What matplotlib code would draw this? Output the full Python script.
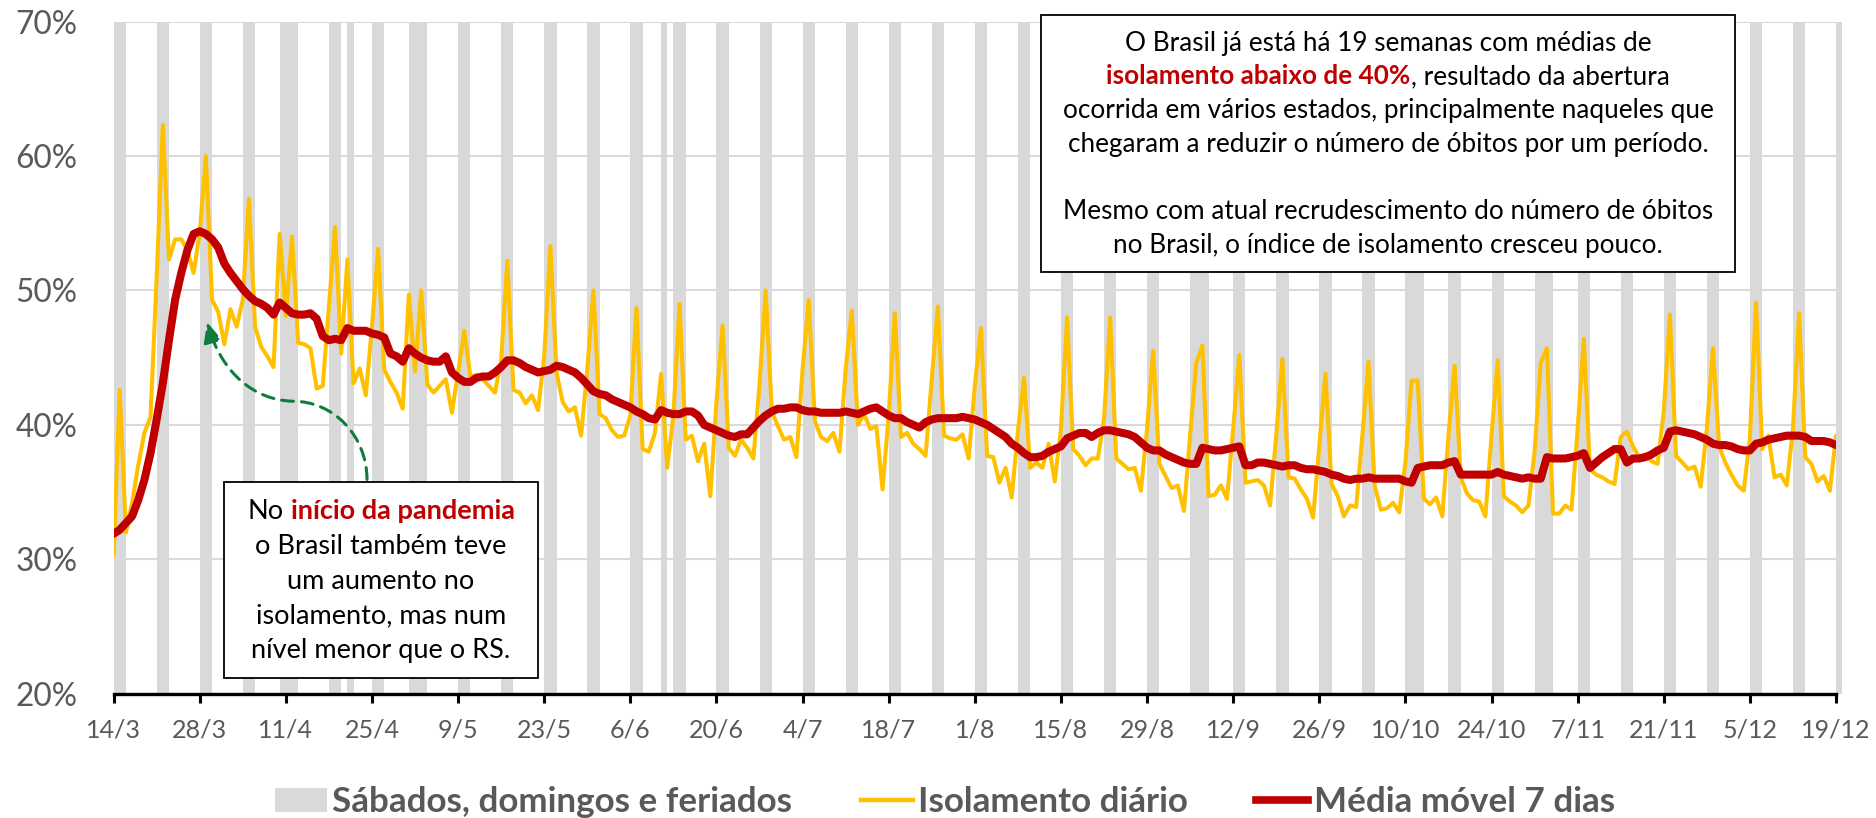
import matplotlib
matplotlib.use('Agg')
import matplotlib.pyplot as plt
import numpy as np
from matplotlib.patches import Rectangle, Patch, FancyArrowPatch
from matplotlib.lines import Line2D
from matplotlib.path import Path

W, H, DPI = 1876, 818, 100
FONT = 'Lato'
plt.rcParams['font.family'] = [FONT, 'DejaVu Sans']

# ---------------- data ----------------
tick_labels = ['14/3', '28/3', '11/4', '25/4', '9/5', '23/5', '6/6', '20/6', '4/7',
               '18/7', '1/8', '15/8', '29/8', '12/9', '26/9', '10/10', '24/10',
               '7/11', '21/11', '5/12', '19/12']

# daily isolation index (%), one value per day starting 14/3 (Saturday)
daily = [
    30.3, 42.6, 32.0, 34.2, 37.0, 39.4, 40.6,
    51.0, 62.3, 52.3, 53.8, 53.8, 53.0, 51.3,
    54.3, 60.0, 49.3, 48.4, 46.0, 48.6, 47.3,
    49.3, 56.8, 47.3, 45.8, 45.1, 44.3, 54.2,
    48.1, 54.0, 46.1, 46.0, 45.7, 42.7, 42.9,
    48.8, 54.7, 45.3, 52.3, 43.1, 44.2, 42.2,
    47.3, 53.1, 44.1, 43.2, 42.4, 41.2, 49.7,
    44.0, 50.0, 43.0, 42.4, 42.9, 43.4, 40.9,
    43.9, 47.0, 43.6, 43.7, 43.4, 42.9, 42.4,
    44.8, 52.2, 42.6, 42.4, 41.6, 42.2, 41.1,
    45.1, 53.3, 43.9, 41.7, 41.0, 41.3, 39.2,
    44.1, 50.0, 40.8, 40.5, 39.6, 39.1, 39.2,
    40.7, 48.7, 38.2, 38.0, 39.4, 43.8, 36.8,
    40.7, 49.0, 38.9, 39.2, 37.3, 38.6, 34.7,
    41.7, 47.4, 38.3, 37.7, 38.9, 38.3, 37.5,
    43.0, 50.0, 41.0, 39.9, 38.9, 39.1, 37.6,
    44.1, 49.3, 40.3, 39.1, 38.8, 39.4, 38.0,
    44.1, 48.5, 40.0, 40.8, 39.7, 39.9, 35.2,
    40.7, 48.3, 39.1, 39.4, 38.6, 38.2, 37.7,
    43.4, 48.8, 39.2, 39.0, 38.9, 39.3, 37.5,
    42.9, 47.2, 37.7, 37.6, 35.7, 36.8, 34.6,
    39.5, 43.5, 36.8, 37.2, 36.8, 38.6, 35.8,
    39.7, 48.0, 38.2, 37.7, 37.0, 37.5, 37.5,
    40.4, 48.0, 37.5, 37.1, 36.7, 36.8, 35.1,
    39.7, 45.5, 37.1, 36.2, 35.3, 35.5, 33.6,
    39.2, 44.6, 45.9, 34.7, 34.8, 35.5, 34.5,
    39.7, 45.2, 35.7, 35.8, 35.9, 35.5, 34.0,
    39.2, 44.9, 36.1, 36.0, 35.2, 34.5, 33.1,
    38.4, 43.8, 35.6, 34.7, 33.2, 34.0, 33.9,
    39.2, 44.7, 35.5, 33.7, 33.8, 34.2, 33.5,
    37.2, 43.3, 43.3, 34.5, 34.1, 34.6, 33.2,
    39.2, 44.4, 36.1, 34.9, 34.4, 34.3, 33.2,
    39.2, 44.8, 34.7, 34.3, 34.0, 33.5, 34.0,
    38.0, 44.6, 45.7, 33.4, 33.4, 34.0, 33.7,
    39.7, 46.4, 36.7, 36.3, 36.1, 35.8, 35.6,
    39.1, 39.5, 38.4, 37.6, 37.8, 37.3, 37.1,
    41.0, 48.2, 37.7, 37.2, 36.7, 36.9, 35.4,
    39.7, 45.7, 38.4, 37.2, 36.3, 35.5, 35.1,
    39.0, 49.1, 38.2, 39.2, 36.1, 36.3, 35.5,
    39.7, 48.3, 37.6, 37.1, 35.8, 36.2, 35.1,
    39.2,
]

# 7-day moving average (%)
avg7 = [
    31.9, 32.2, 32.7, 33.2, 34.4, 35.9, 37.9,
    40.4, 43.1, 46.3, 49.3, 51.3, 53.0, 54.2,
    54.4, 54.2, 53.8, 53.2, 52.0, 51.3, 50.7,
    50.1, 49.6, 49.2, 49.0, 48.7, 48.2, 49.1,
    48.7, 48.3, 48.2, 48.2, 48.3, 47.9, 46.6,
    46.3, 46.4, 46.3, 47.2, 47.0, 47.0, 47.0,
    46.8, 46.7, 46.5, 45.3, 45.1, 44.7, 45.7,
    45.3, 45.0, 44.8, 44.7, 44.7, 45.1, 43.9,
    43.5, 43.2, 43.2, 43.5, 43.6, 43.6, 43.9,
    44.3, 44.8, 44.8, 44.6, 44.3, 44.1, 43.9,
    44.0, 44.1, 44.4, 44.3, 44.1, 43.9, 43.5,
    43.0, 42.5, 42.3, 42.2, 41.9, 41.7, 41.5,
    41.3, 41.0, 40.8, 40.5, 40.4, 41.1, 40.9,
    40.8, 40.8, 41.0, 41.0, 40.7, 40.0, 39.8,
    39.6, 39.4, 39.2, 39.1, 39.3, 39.3, 39.8,
    40.3, 40.7, 41.0, 41.2, 41.2, 41.3, 41.3,
    41.1, 41.0, 41.0, 40.9, 40.9, 40.9, 40.9,
    41.0, 40.9, 40.8, 41.0, 41.2, 41.3, 41.0,
    40.7, 40.5, 40.5, 40.2, 40.0, 39.8, 40.2,
    40.4, 40.5, 40.5, 40.5, 40.5, 40.6, 40.5,
    40.4, 40.2, 40.0, 39.7, 39.4, 39.1, 38.6,
    38.3, 37.9, 37.6, 37.6, 37.7, 38.0, 38.2,
    38.4, 39.0, 39.2, 39.4, 39.4, 39.1, 39.4,
    39.6, 39.6, 39.5, 39.4, 39.3, 39.1, 38.7,
    38.3, 38.1, 38.1, 37.8, 37.6, 37.4, 37.2,
    37.1, 37.1, 38.3, 38.2, 38.1, 38.1, 38.2,
    38.3, 38.4, 37.0, 37.0, 37.2, 37.2, 37.1,
    37.0, 36.9, 37.0, 37.0, 36.8, 36.7, 36.7,
    36.6, 36.5, 36.3, 36.2, 36.0, 35.9, 36.0,
    36.0, 36.1, 36.0, 36.0, 36.0, 36.0, 36.0,
    35.8, 35.7, 36.8, 36.9, 37.0, 37.0, 37.0,
    37.2, 37.3, 36.3, 36.3, 36.3, 36.3, 36.3,
    36.3, 36.5, 36.3, 36.2, 36.1, 36.0, 36.1,
    36.0, 36.0, 37.6, 37.5, 37.5, 37.5, 37.6,
    37.7, 37.9, 36.8, 37.2, 37.6, 37.9, 38.2,
    38.2, 37.2, 37.5, 37.5, 37.6, 37.8, 38.1,
    38.3, 39.5, 39.6, 39.5, 39.4, 39.3, 39.1,
    38.9, 38.6, 38.5, 38.5, 38.4, 38.2, 38.1,
    38.1, 38.6, 38.7, 38.9, 39.0, 39.1, 39.2,
    39.2, 39.2, 39.1, 38.8, 38.8, 38.8, 38.7,
    38.5,
]

# days (offset from 14/3) that are Saturdays, Sundays or holidays
off_days = [0, 1, 7, 8, 14, 15, 21, 22, 27, 28, 29, 35, 36, 38, 42, 43, 48, 49, 50,
            56, 57, 63, 64, 70, 71, 77, 78, 84, 85, 89, 91, 92, 98, 99, 105, 106,
            112, 113, 119, 120, 126, 127, 133, 134, 140, 141, 147, 148, 154, 155,
            161, 162, 168, 169, 175, 176, 177, 182, 183, 189, 190, 196, 197, 203,
            204, 210, 211, 212, 217, 218, 224, 225, 231, 232, 233, 238, 239, 245,
            246, 252, 253, 259, 260, 266, 267, 273, 274, 280]

y_ticks = [20, 30, 40, 50, 60, 70]
legend_labels = ['Sábados, domingos e feriados', 'Isolamento diário', 'Média móvel 7 dias']

# ---------------- figure ----------------
fig = plt.figure(figsize=(W / DPI, H / DPI), dpi=DPI)
renderer = fig.canvas.get_renderer()


def text_width(s, size, weight='normal'):
    t = fig.text(0, 0, s, fontsize=size, fontweight=weight)
    w = t.get_window_extent(renderer).width
    t.remove()
    return w


def fit(s, target, weight='normal', base=20.0):
    return base * target / text_width(s, base, weight)


x_size = fit('14/3', 55)
y_size = fit('70%', 62)
leg_size = fit(legend_labels[0], 460, 'bold')
box1_size = fit('chegaram a reduzir o número de óbitos por um período.', 638)
box2_size = fit('o Brasil também teve', 252)

ax_l, ax_r, ax_b, ax_t = 113.6, 1836.0, 693.8, 21.5
ax = fig.add_axes([ax_l / W, 1 - ax_b / H, (ax_r - ax_l) / W, (ax_b - ax_t) / H])

days = np.arange(len(daily))
ax.bar(off_days, [70 - 20] * len(off_days), bottom=20, width=1.0, align='edge',
       color='#D9D9D9', linewidth=0, zorder=1, clip_on=False)
ax.plot(days, daily, color='#FFC000', lw=2.9, zorder=3, solid_joinstyle='round',
        solid_capstyle='round')
ax.plot(days, avg7, color='#C00000', lw=5.8, zorder=4, solid_joinstyle='round',
        solid_capstyle='round')

ax.set_xlim(0, len(daily) - 1)
ax.set_ylim(20, 70)
ax.set_yticks(y_ticks)
ax.set_yticklabels([f'{v}%' for v in y_ticks])
ax.set_xticks(np.arange(0, len(daily), 14))
ax.set_xticklabels(tick_labels)
ax.grid(axis='y', color='#D9D9D9', lw=1.5)
ax.set_axisbelow(True)
for s in ['top', 'left', 'right']:
    ax.spines[s].set_visible(False)
ax.spines['bottom'].set_linewidth(2.4)
ax.spines['bottom'].set_color('black')
ax.spines['bottom'].set_zorder(6)
ax.tick_params(axis='x', direction='out', length=6.6, width=2.2, color='black',
               pad=11, labelsize=x_size, labelcolor='#595959')
ax.tick_params(axis='y', length=0, pad=26, labelsize=y_size, labelcolor='#595959')

# dashed green arrow (annotation), anchor points in data coordinates
arrow_pts = [(41.19, 35.94), (41.19, 39.15), (35.83, 41.76), (29.16, 41.76),
             (22.99, 41.83), (17.62, 43.77), (15.18, 47.65)]
arrow_path = Path(arrow_pts, [Path.MOVETO, Path.CURVE4, Path.CURVE4, Path.CURVE4,
                              Path.CURVE4, Path.CURVE4, Path.CURVE4])
arr = FancyArrowPatch(path=arrow_path, arrowstyle='-|>,head_length=0.6,head_width=0.27',
                      mutation_scale=20, lw=2.2, linestyle=(0, (3.9, 2.6)),
                      color='#0E7C3A', zorder=7)
ax.add_patch(arr)


# ---------------- text boxes ----------------
def fx(x):
    return x / W


def fy(y):
    return 1 - y / H


def add_box(x0, y0, x1, y1):
    fig.add_artist(Rectangle((fx(x0), fy(y1)), fx(x1) - fx(x0), fy(y0) - fy(y1),
                             transform=fig.transFigure, facecolor='white',
                             edgecolor='black', lw=1.3, zorder=5))


def draw_line(parts, cx, base_y, size):
    widths = [text_width(t, size, w) if t != ' ' else
              text_width('a a', size) - text_width('aa', size) for t, c, w in parts]
    x = cx - sum(widths) / 2
    for (t, c, w), wd in zip(parts, widths):
        if t != ' ':
            fig.text(fx(x), fy(base_y), t, fontsize=size, fontweight=w, color=c,
                     ha='left', va='baseline', zorder=6)
        x += wd


RED = '#C00000'
BLK = '#000000'

# top-right box
add_box(1041, 15, 1735, 272)
cx1 = (1041 + 1735) / 2
lines1 = [
    [('O Brasil já está há 19 semanas com médias de', BLK, 'normal')],
    [('isolamento abaixo de 40%', RED, 'bold'), (', resultado da abertura', BLK, 'normal')],
    [('ocorrida em vários estados, principalmente naqueles que', BLK, 'normal')],
    [('chegaram a reduzir o número de óbitos por um período.', BLK, 'normal')],
    None,
    [('Mesmo com atual recrudescimento do número de óbitos', BLK, 'normal')],
    [('no Brasil, o índice de isolamento cresceu pouco.', BLK, 'normal')],
]
base1 = 50.7
for i, parts in enumerate(lines1):
    if parts:
        draw_line(parts, cx1, base1 + i * 33.75, box1_size)

# left box
add_box(224, 482, 538, 678)
cx2 = (224 + 538) / 2
lines2 = [
    [('No', BLK, 'normal'), (' ', BLK, 'normal'), ('início da pandemia', RED, 'bold')],
    [('o Brasil também teve', BLK, 'normal')],
    [('um aumento no', BLK, 'normal')],
    [('isolamento, mas num', BLK, 'normal')],
    [('nível menor que o RS.', BLK, 'normal')],
]
base2 = 519
for i, parts in enumerate(lines2):
    draw_line(parts, cx2, base2 + i * 34.8, box2_size)

# ---------------- legend ----------------
em = leg_size * DPI / 72
handles = [Patch(facecolor='#D9D9D9', edgecolor='none'),
           Line2D([], [], color='#FFC000', lw=3.2),
           Line2D([], [], color='#C00000', lw=5.5)]
fig.legend(handles, legend_labels, loc='center', bbox_to_anchor=(945 / W, 1 - 802 / H),
           ncol=3, frameon=False, prop={'family': [FONT, 'DejaVu Sans'], 'weight': 'bold',
                                         'size': leg_size},
           labelcolor='#595959', handlelength=52 / em, handletextpad=6 / em,
           columnspacing=68 / em, borderpad=0, borderaxespad=0, handleheight=0.7)

fig.savefig('out.png', dpi=DPI)
